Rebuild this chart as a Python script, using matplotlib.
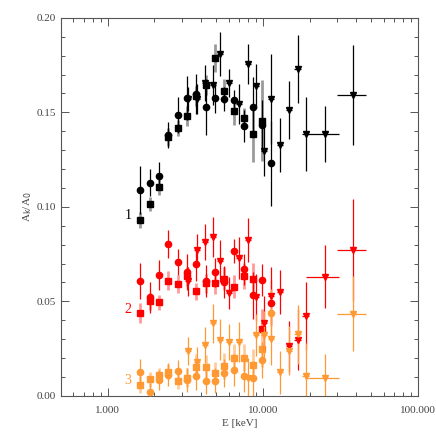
import matplotlib
matplotlib.use("Agg")
import matplotlib.pyplot as plt
from matplotlib.ticker import FixedLocator, LogLocator, NullFormatter, FormatStrFormatter

# energy grids (keV)
e_cs = [1.62, 1.86, 2.13, 2.46, 2.83, 3.23, 3.72, 4.27, 4.90, 5.63, 6.47, 7.50, 8.62, 9.90, 11.35]
e_cs_err = [0.07, 0.08, 0.09, 0.10, 0.12, 0.14, 0.16, 0.18, 0.20, 0.24, 0.27, 0.30, 0.36, 0.40, 0.45]
e_tri = [3.28, 3.75, 4.26, 4.79, 5.32, 6.04, 7.00, 8.04, 9.05, 10.1, 11.35, 12.9, 14.7, 16.7, 18.9, 25.0, 38.1]
e_tri_err = [0.15, 0.17, 0.19, 0.21, 0.24, 0.27, 0.32, 0.36, 0.40, 0.45, 0.50, 0.60, 0.70, 0.80, 1.0, 6.0, 7.9]

# series 1 (black)
blk_circ = [0.1089, 0.1129, 0.1165, 0.1378, 0.1486, 0.1578, 0.1597, 0.1528, 0.1578, 0.1571,
            0.1565, 0.1429, 0.1528, 0.1432, 0.1230]
blk_circ_err = [0.0128, 0.0074, 0.0074, 0.0069, 0.0096, 0.0117, 0.0106, 0.0149, 0.0080, 0.0064,
                0.0053, 0.0085, 0.0160, 0.0133, 0.0223]
blk_sq = [0.0931, 0.1014, 0.1105, 0.1370, 0.1416, 0.1482, 0.1589, 0.1644, 0.1786, 0.1613,
          0.1507, 0.1470, 0.1387, 0.1456]
blk_sq_err = [0.0043, 0.0037, 0.0043, 0.0048, 0.0043, 0.0053, 0.0053, 0.0053, 0.0074, 0.0064,
              0.0074, 0.0053, 0.0149, 0.0213]
blk_tri = [0.1570, 0.1571, 0.1654, 0.1647, 0.1810, 0.1653, 0.1544, 0.1754, 0.1638, 0.1294,
           0.1571, 0.1328, 0.1514, 0.1729, 0.1387, 0.1385, 0.1592]
blk_tri_err = [0.0064, 0.0080, 0.0096, 0.0106, 0.0117, 0.0074, 0.0106, 0.0106, 0.0117, 0.0133,
               0.0239, 0.0144, 0.0154, 0.0181, 0.0197, 0.0149, 0.0266]

# series 2 (red)
red_circ = [0.0610, 0.0521, 0.0640, 0.0802, 0.0709, 0.0656, 0.0698, 0.0606, 0.0653, 0.0603,
            0.0766, 0.0669, 0.0532, 0.0615, 0.0493]
red_circ_err = [0.0095, 0.0080, 0.0080, 0.0075, 0.0070, 0.0095, 0.0090, 0.0085, 0.0075, 0.0085,
                0.0065, 0.0080, 0.0125, 0.0085, 0.0120]
red_sq = [0.0438, 0.0500, 0.0495, 0.0610, 0.0592, 0.0633, 0.0553, 0.0597, 0.0596, 0.0621,
          0.0578, 0.0633, 0.0617, 0.0353]
red_sq_err = [0.0055, 0.0045, 0.0040, 0.0050, 0.0045, 0.0050, 0.0045, 0.0050, 0.0055, 0.0060,
              0.0060, 0.0070, 0.0085, 0.0105]
red_tri = [0.0606, 0.0770, 0.0815, 0.0840, 0.0713, 0.0544, 0.0730, 0.0824, 0.0521, 0.0385,
           0.0527, 0.0549, 0.0262, 0.0298, 0.0424, 0.0631, 0.0770]
red_tri_err = [0.0075, 0.0085, 0.0095, 0.0105, 0.0110, 0.0085, 0.0110, 0.0115, 0.0125, 0.0145,
               0.0155, 0.0115, 0.0135, 0.0160, 0.0180, 0.0165, 0.0270]

# series 3 (orange)
org_circ = [0.0128, 0.0021, 0.0084, 0.0112, 0.0131, 0.0085, 0.0106, 0.0078, 0.0081, 0.0122,
            0.0138, 0.0106, 0.0092, 0.0191, 0.0440]
org_circ_err = [0.0065, 0.0045, 0.0055, 0.0060, 0.0060, 0.0065, 0.0075, 0.0070, 0.0065, 0.0075,
                0.0085, 0.0085, 0.0095, 0.0095, 0.0125]
org_sq = [0.0060, 0.0089, 0.0110, 0.0128, 0.0080, 0.0096, 0.0154, 0.0153, 0.0121, 0.0158,
          0.0202, 0.0202, 0.0166, 0.0248]
org_sq_err = [0.0045, 0.0040, 0.0040, 0.0040, 0.0045, 0.0050, 0.0065, 0.0065, 0.0060, 0.0070,
              0.0075, 0.0070, 0.0080, 0.0095]
org_tri = [0.0239, 0.0181, 0.0271, 0.0383, 0.0298, 0.0284, 0.0284, 0.0096, 0.0322, 0.0324,
           0.0301, 0.0124, 0.0238, 0.0326, 0.0106, 0.0092, 0.0435]
org_tri_err = [0.0075, 0.0080, 0.0095, 0.0105, 0.0110, 0.0095, 0.0105, 0.0105, 0.0110, 0.0125,
               0.0135, 0.0115, 0.0130, 0.0155, 0.0175, 0.0130, 0.0200]

series = [
    ("1", 0.0952, "#000000", "#9a9a9a", blk_circ, blk_circ_err, blk_sq, blk_sq_err, blk_tri, blk_tri_err),
    ("2", 0.0457, "#ff0000", "#ff9a9a", red_circ, red_circ_err, red_sq, red_sq_err, red_tri, red_tri_err),
    ("3", 0.0080, "#ff9933", "#ffcc99", org_circ, org_circ_err, org_sq, org_sq_err, org_tri, org_tri_err),
]

plt.rcParams["font.family"] = ["Liberation Serif", "DejaVu Serif"]

fig = plt.figure(figsize=(4.36, 4.36), dpi=100)
ax = fig.add_axes([0.140, 0.092, 0.819, 0.867])

for name, ylab, dark, light, circ, circ_err, sq, sq_err, tri, tri_err in series:
    n_sq = len(sq)
    ax.errorbar(e_cs[:n_sq], sq, yerr=sq_err, xerr=e_cs_err[:n_sq], fmt="s", ms=4.5, color=dark,
                ecolor=light, elinewidth=2.0, capsize=0, zorder=3)
    ax.errorbar(e_cs, circ, yerr=circ_err, xerr=e_cs_err, fmt="o", ms=4.5, color=dark,
                ecolor=dark, elinewidth=0.9, capsize=0, zorder=4)
    ax.errorbar(e_tri, tri, yerr=tri_err, xerr=e_tri_err, fmt="v", ms=4, color=dark,
                ecolor=dark, elinewidth=0.9, capsize=0, zorder=4)
    ax.text(1.35, ylab, name, color=dark, fontsize=10, ha="center", va="center")

ax.set_xscale("log")
ax.set_xlim(0.5, 100)
ax.set_ylim(0, 0.2)

ax.xaxis.set_major_locator(FixedLocator([1, 10, 100]))
ax.xaxis.set_major_formatter(FormatStrFormatter("%.3f"))
ax.xaxis.set_minor_locator(LogLocator(base=10, subs=range(2, 10)))
ax.xaxis.set_minor_formatter(NullFormatter())
ax.yaxis.set_major_locator(FixedLocator([0, 0.05, 0.10, 0.15, 0.20]))
ax.yaxis.set_major_formatter(FormatStrFormatter("%.2f"))
ax.yaxis.set_minor_locator(FixedLocator([i * 0.01 for i in range(21)]))

ax.tick_params(which="both", direction="in", top=True, right=True, colors="#555555",
               labelcolor="#444444", labelsize=8)
ax.tick_params(which="major", length=6, width=0.7)
ax.tick_params(which="minor", length=3, width=0.7)
ax.tick_params(axis="x", pad=7)
for sp in ax.spines.values():
    sp.set_color("#555555")
    sp.set_linewidth(0.8)

ax.set_xlabel("E [keV]", fontsize=8, color="#444444", labelpad=3)
ax.set_ylabel(r"A$_{\rm k}$/A$_{\rm 0}$", fontsize=8, color="#444444", labelpad=2)

fig.savefig("out.png", dpi=100)
